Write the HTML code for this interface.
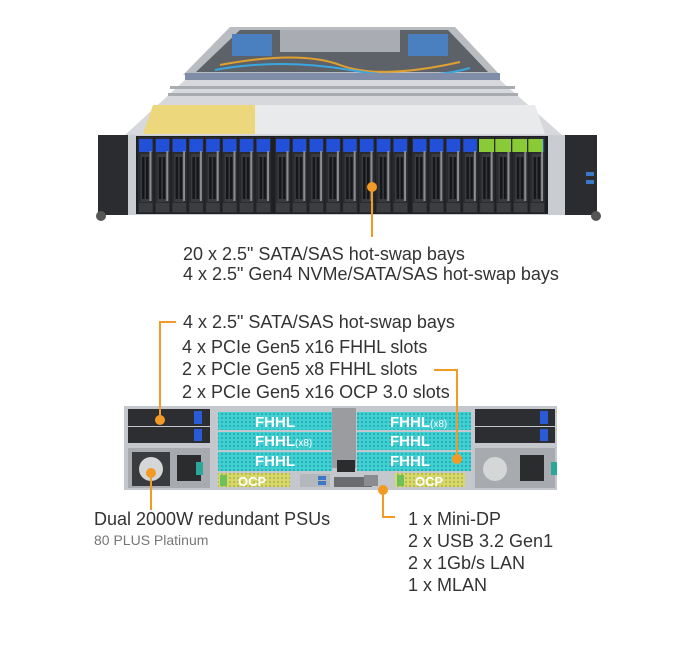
<!DOCTYPE html>
<html><head><meta charset="utf-8"><style>
html,body{margin:0;padding:0;background:#fff;}
body{width:688px;height:645px;position:relative;overflow:hidden;font-family:"Liberation Sans",sans-serif;}
svg{position:absolute;left:0;top:0;}
</style></head><body>
<svg width="688" height="645" viewBox="0 0 688 645" xmlns="http://www.w3.org/2000/svg">
<defs>
<g id="bay">
  <rect x="0" y="0" width="15.5" height="76" fill="#2a2b2e"/>
  <rect x="1" y="2" width="13.5" height="13" fill="#2350d8"/>
  <rect x="2.5" y="17" width="10" height="48" fill="#3a3b3f"/>
  <rect x="4" y="20" width="2.5" height="42" fill="#15161a"/>
  <rect x="8" y="20" width="2.5" height="42" fill="#15161a"/>
  <rect x="11.5" y="14" width="2" height="50" fill="#8a8c90"/>
  <rect x="1" y="66" width="13.5" height="9" fill="#3c3d40"/>
</g>
<g id="grp">
  <use href="#bay" x="0"/><use href="#bay" x="16.8"/><use href="#bay" x="33.6"/><use href="#bay" x="50.4"/>
  <use href="#bay" x="67.2"/><use href="#bay" x="84"/><use href="#bay" x="100.8"/><use href="#bay" x="117.6"/>
</g>
<pattern id="mesh" width="4" height="4" patternUnits="userSpaceOnUse">
  <rect width="4" height="4" fill="#3fd0d4"/><circle cx="2" cy="2" r="0.9" fill="#1d9aa0"/>
</pattern>
<pattern id="ymesh" width="4" height="4" patternUnits="userSpaceOnUse">
  <rect width="4" height="4" fill="#d7d86a"/><circle cx="2" cy="2" r="0.9" fill="#a4a53a"/>
</pattern>
</defs>

<polygon points="230,27 455,27 500,75 183,75" fill="#b9bcc1"/>
<polygon points="240,30 448,30 488,72 196,72" fill="#5d6168"/>
<rect x="232" y="34" width="40" height="22" fill="#4a7fc0"/>
<rect x="408" y="34" width="40" height="22" fill="#4a7fc0"/>
<rect x="280" y="30" width="120" height="22" fill="#a9adb3"/>
<path d="M220,65 Q300,50 340,65 T460,62" stroke="#e0a030" stroke-width="2" fill="none"/>
<path d="M215,70 Q280,58 350,70 T470,68" stroke="#3aa7e0" stroke-width="2" fill="none"/>
<rect x="185" y="73" width="315" height="8" fill="#7f8da8"/>
<polygon points="185,80 500,80 562,135 125,135" fill="#d6d8db"/>
<rect x="170" y="86" width="345" height="3" fill="#a8abb0"/>
<rect x="168" y="93" width="350" height="3" fill="#a8abb0"/>
<polygon points="153,105 255,105 255,134 143,134" fill="#ecd77c"/>
<polygon points="255,105 535,105 545,134 255,134" fill="#e9eaec"/>
<rect x="128" y="135" width="438" height="80" fill="#c9ccd0"/>
<rect x="98" y="135" width="30" height="80" fill="#2b2c2f"/>
<rect x="565" y="135" width="32" height="80" fill="#2b2c2f"/>
<rect x="586" y="172" width="8" height="4" fill="#3b78c8"/>
<rect x="586" y="180" width="8" height="4" fill="#3b78c8"/>
<circle cx="101" cy="216" r="5" fill="#555"/><circle cx="596" cy="216" r="5" fill="#555"/>
<rect x="136" y="136" width="412" height="78" fill="#1e1f22"/>
<use href="#grp" x="138" y="137"/>
<use href="#grp" x="275" y="137"/>
<use href="#grp" x="412" y="137"/>
<rect x="479" y="139" width="64" height="13" fill="#8fd12f" opacity="0.95"/>
<rect x="494" y="139" width="1.3" height="13" fill="#2a2b2e"/>
<rect x="511" y="139" width="1.3" height="13" fill="#2a2b2e"/>
<rect x="527" y="139" width="1.3" height="13" fill="#2a2b2e"/>
<circle cx="372" cy="187" r="5" fill="#f39a25"/>
<rect x="371" y="187" width="2" height="50" fill="#f39a25"/>

<g font-size="18" fill="#333">
<text x="183" y="260">20 x 2.5" SATA/SAS hot-swap bays</text>
<text x="183" y="280">4 x 2.5" Gen4 NVMe/SATA/SAS hot-swap bays</text>
<text x="183" y="328">4 x 2.5" SATA/SAS hot-swap bays</text>
<text x="182" y="353">4 x PCIe Gen5 x16 FHHL slots</text>
<text x="182" y="375">2 x PCIe Gen5 x8 FHHL slots</text>
<text x="182" y="398">2 x PCIe Gen5 x16 OCP 3.0 slots</text>
<text x="94" y="525">Dual 2000W redundant PSUs</text>
<text x="408" y="525">1 x Mini-DP</text>
<text x="408" y="547">2 x USB 3.2 Gen1</text>
<text x="408" y="569">2 x 1Gb/s LAN</text>
<text x="408" y="591">1 x MLAN</text>
</g>
<text x="94" y="545" font-size="14" fill="#777">80 PLUS Platinum</text>

<rect x="124" y="406" width="433" height="84" fill="#c4c7cb"/>
<rect x="128" y="409" width="82" height="17" fill="#2d2e31"/>
<rect x="128" y="427" width="82" height="16" fill="#2d2e31"/>
<rect x="194" y="411" width="8" height="13" fill="#2a5bd6"/>
<rect x="194" y="429" width="8" height="12" fill="#2a5bd6"/>
<rect x="128" y="448" width="82" height="40" fill="#a7aaae"/>
<rect x="132" y="452" width="38" height="34" fill="#3a3b3e"/>
<circle cx="151" cy="469" r="12" fill="#d4d6d8"/>
<rect x="177" y="455" width="24" height="26" fill="#2b2c2e"/>
<rect x="196" y="462" width="7" height="13" fill="#2aa79a"/>
<rect x="475" y="409" width="80" height="17" fill="#2d2e31"/>
<rect x="475" y="427" width="80" height="16" fill="#2d2e31"/>
<rect x="540" y="411" width="8" height="13" fill="#2a5bd6"/>
<rect x="540" y="429" width="8" height="12" fill="#2a5bd6"/>
<rect x="475" y="448" width="80" height="40" fill="#a7aaae"/>
<circle cx="495" cy="469" r="12" fill="#d4d6d8"/>
<rect x="520" y="455" width="24" height="26" fill="#2b2c2e"/>
<rect x="551" y="462" width="6" height="13" fill="#2aa79a"/>
<rect x="332" y="408" width="24" height="60" fill="#9a9ca0"/>
<rect x="337" y="460" width="18" height="12" fill="#2b2c2e"/>
<g>
<rect x="218" y="412" width="114" height="18" fill="url(#mesh)"/>
<rect x="218" y="432" width="114" height="18" fill="url(#mesh)"/>
<rect x="218" y="452" width="114" height="19" fill="url(#mesh)"/>
<rect x="357" y="412" width="114" height="18" fill="url(#mesh)"/>
<rect x="357" y="432" width="114" height="18" fill="url(#mesh)"/>
<rect x="357" y="452" width="114" height="19" fill="url(#mesh)"/>
<rect x="218" y="473" width="72" height="14" fill="url(#ymesh)"/>
<rect x="395" y="473" width="70" height="14" fill="url(#ymesh)"/>
<rect x="220" y="475" width="7" height="11" fill="#6cc15a"/>
<rect x="397" y="475" width="7" height="11" fill="#6cc15a"/>
</g>
<rect x="300" y="474" width="30" height="13" fill="#b4b7bb"/>
<rect x="318" y="476" width="8" height="4" fill="#3b78c8"/><rect x="318" y="481" width="8" height="4" fill="#3b78c8"/>
<rect x="334" y="477" width="38" height="10" fill="#6a6c70"/>
<rect x="364" y="475" width="14" height="11" fill="#8a8c90"/>
<g font-size="15" font-weight="bold" fill="#fff">
<text x="255" y="427">FHHL</text>
<text x="255" y="446">FHHL<tspan font-size="10" font-weight="normal">(x8)</tspan></text>
<text x="255" y="466">FHHL</text>
<text x="390" y="427">FHHL<tspan font-size="10" font-weight="normal">(x8)</tspan></text>
<text x="390" y="446">FHHL</text>
<text x="390" y="466">FHHL</text>
<text x="238" y="486" font-size="13">OCP</text>
<text x="415" y="486" font-size="13">OCP</text>
</g>

<g fill="#f39a25">
<rect x="159" y="321" width="17" height="2"/>
<rect x="159" y="321" width="2" height="100"/>
<circle cx="160" cy="420" r="5"/>
<rect x="434" y="369" width="24" height="2"/>
<rect x="456" y="369" width="2" height="90"/>
<circle cx="457" cy="459" r="5"/>
<circle cx="151" cy="473" r="5"/>
<rect x="150" y="473" width="2" height="37"/>
<circle cx="383" cy="490" r="5"/>
<rect x="382" y="490" width="2" height="28"/>
<rect x="382" y="516" width="13" height="2"/>
</g>
</svg>
</body></html>
